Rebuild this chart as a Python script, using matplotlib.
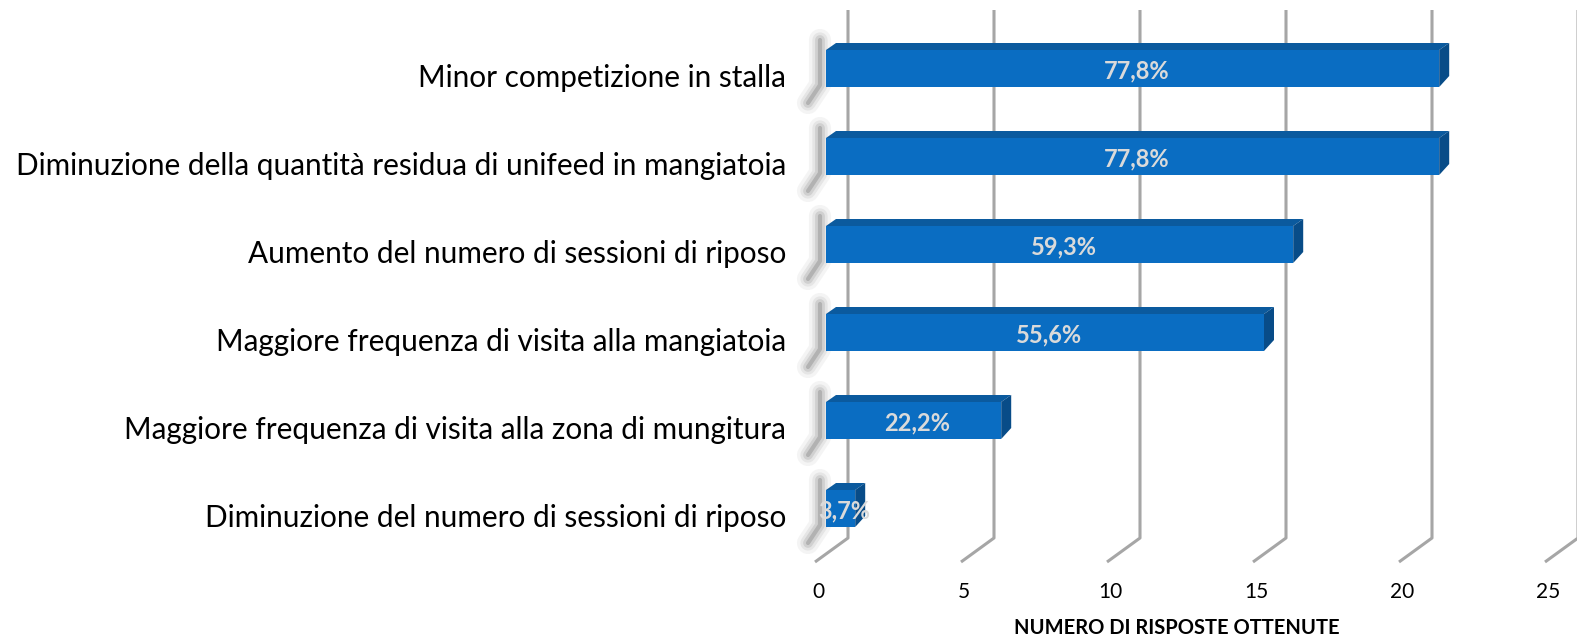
import matplotlib
matplotlib.use("Agg")
import matplotlib.pyplot as plt
import matplotlib.transforms as mtransforms
from matplotlib.patches import Polygon

# ---------- data ----------
categories = [
    "Minor competizione in stalla",
    "Diminuzione della quantità residua di unifeed in mangiatoia",
    "Aumento del numero di sessioni di riposo",
    "Maggiore frequenza di visita alla mangiatoia",
    "Maggiore frequenza di visita alla zona di mungitura",
    "Diminuzione del numero di sessioni di riposo",
]
counts = [21, 21, 16, 15, 6, 1]
n_total = 27
xticks = [0, 5, 10, 15, 20, 25]
xlabel = "NUMERO DI RISPOSTE OTTENUTE"

# ---------- style ----------
FONT = "Lato"
C_FRONT = "#0a6dc2"
C_TOP = "#0b5a9e"
C_SIDE = "#084c88"
C_GRID = "#a6a6a6"
W, H, DPI = 15.77, 6.43, 100

fig = plt.figure(figsize=(W, H), dpi=DPI)
fig.patch.set_facecolor("white")

# axes placed in pixel terms: x 0..25 -> 826..1556 px, categories band 21..549 px
px_left, px_right = 826, 1556
px_top, px_bot = 21, 549
ax = fig.add_axes([px_left / 1577, (643 - px_bot) / 643,
                   (px_right - px_left) / 1577, (px_bot - px_top) / 643])
ax.set_xlim(0, 25)
ax.set_ylim(len(categories) - 0.5, -0.5)
ax.axis("off")

px_per_x = (px_right - px_left) / 25.0
px_per_y = (px_bot - px_top) / len(categories)
def ux(px):
    return px / px_per_x
def uy(px):
    return px / px_per_y

# ---------- back-wall gridlines with floor diagonals ----------
back_dx = ux(22)
for t in xticks:
    xb = t + back_dx
    ax.plot([xb, xb, xb - ux(33)],
            [-0.5 - uy(11), 5.5 - uy(11), 5.5 + uy(13)],
            color=C_GRID, lw=2.2, solid_capstyle="butt", zorder=1, clip_on=False)

# ---------- 3D-ish bars ----------
ys = list(range(len(categories)))
front_h = uy(37)
y_shift = uy(3.5)
dx, dy = ux(10), uy(7)

for y, v in zip(ys, counts):
    yc = y + y_shift
    top = yc - front_h / 2
    bot = yc + front_h / 2
    # soft shadow on the left wall
    for lw, a in [(16, 0.05), (11, 0.08), (7, 0.12), (3, 0.2)]:
        ax.plot([-ux(6), -ux(6), -ux(18)],
                [top - uy(10), bot - uy(2), bot + uy(16)],
                color="#3a3a3a", lw=lw, alpha=a, zorder=2, clip_on=False,
                solid_capstyle="round", solid_joinstyle="round")
ax.barh([y + y_shift for y in ys], counts, height=front_h, left=0,
        color=C_FRONT, edgecolor="none", zorder=3)
for y, v in zip(ys, counts):
    yc = y + y_shift
    top = yc - front_h / 2
    bot = yc + front_h / 2
    ax.add_patch(Polygon([(0, top), (v, top), (v + dx, top - dy), (dx, top - dy)],
                         closed=True, facecolor=C_TOP, edgecolor="none", zorder=3))
    ax.add_patch(Polygon([(v, top), (v + dx, top - dy), (v + dx, bot - dy - uy(4)),
                          (v, bot)],
                         closed=True, facecolor=C_SIDE, edgecolor="none", zorder=3))
    pct = f"{v / n_total * 100:.1f}%".replace(".", ",")
    ax.text(v / 2 + ux(4), yc + uy(2), pct, ha="center", va="center",
            fontsize=17, fontweight="bold", color="#dadada", family=FONT,
            zorder=5, clip_on=False)

# ---------- category labels ----------
lab_tr = mtransforms.blended_transform_factory(ax.transAxes, ax.transData)
for y, name in zip(ys, categories):
    ax.text(-40 / (px_right - px_left), y + uy(13), name, transform=lab_tr,
            ha="right", va="center", fontsize=21.4, family=FONT, color="#000000")

# ---------- x tick labels and title ----------
for t in xticks:
    ax.text(t - ux(8), 5.5 + uy(43), str(t), ha="center", va="center",
            fontsize=15, family=FONT, color="#000000", clip_on=False)

fig.text(1177 / 1577, 1 - 628 / 643, xlabel, ha="center", va="center",
         fontsize=14.5, fontweight="bold", family=FONT, color="#000000")

fig.savefig("out.png", dpi=DPI, facecolor="white")
